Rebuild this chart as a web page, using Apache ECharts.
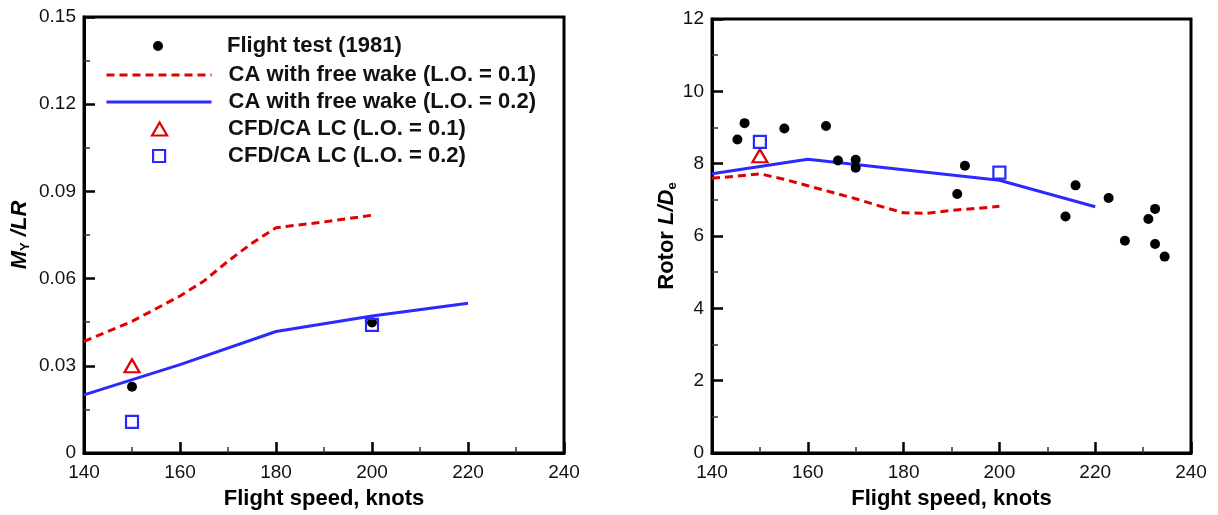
<!DOCTYPE html>
<html>
<head>
<meta charset="utf-8">
<script src="https://cdn.jsdelivr.net/npm/echarts@6/dist/echarts.min.js"></script>
<style>
html,body{margin:0;padding:0;background:#fff;}
#chart{width:1218px;height:515px;}
</style>
</head>
<body>
<div id="chart"></div>
<script>
// ---------- data ----------
const seriesNames = [
  'Flight test (1981)',
  'CA with free wake (L.O. = 0.1)',
  'CA with free wake (L.O. = 0.2)',
  'CFD/CA LC (L.O. = 0.1)',
  'CFD/CA LC (L.O. = 0.2)'
];
const xRange = [140, 240];
const xStep = 20;
const myRange = [0, 0.15];
const myStep = 0.03;
const ldRange = [0, 12];
const ldStep = 2;

// Left panel: hub moment M_Y/LR vs flight speed
const flightTestMy = [[150, 0.0228], [200, 0.0449]];
const caWake01My = [[140, 0.0384], [150, 0.0453], [160, 0.0540], [165, 0.0592], [170, 0.0660], [175, 0.0722], [180, 0.0775], [190, 0.0795], [200, 0.0818]];
const caWake02My = [[140, 0.0200], [160, 0.0304], [180, 0.0418], [200, 0.0471], [220, 0.0515]];
const cfdLc01My = [[150, 0.0300]];
const cfdLc02My = [[150, 0.0107], [200, 0.0441]];

// Right panel: rotor L/De vs flight speed
const flightTestLD = [[145.3, 8.67], [146.8, 9.12], [155.1, 8.97], [163.8, 9.04], [166.3, 8.09], [170.0, 8.11], [170.0, 7.89], [191.2, 7.16], [192.8, 7.94], [213.8, 6.54], [215.9, 7.40], [222.8, 7.05], [226.2, 5.87], [231.1, 6.47], [232.5, 6.75], [232.5, 5.78], [234.5, 5.43]];
const caWake01LD = [[140, 7.60], [145, 7.65], [150, 7.72], [155, 7.57], [160, 7.39], [165, 7.21], [170, 7.03], [175, 6.83], [180, 6.64], [185, 6.63], [190, 6.71], [195, 6.76], [200, 6.82]];
const caWake02LD = [[140, 7.72], [160, 8.12], [200, 7.54], [220, 6.81]];
const cfdLc01LD = [[150, 8.22]];
const cfdLc02LD = [[150, 8.60], [200, 7.75]];

// ---------- styling ----------
const FONT = 'Arial, "Liberation Sans", sans-serif';
const RED = '#e00000';
const BLUE = '#2a2aff';
const BLACK = '#000';

function xAxisDef(gridIndex) {
  return {
    type: 'value', gridIndex: gridIndex,
    min: xRange[0], max: xRange[1], interval: xStep,
    name: 'Flight speed, knots', nameLocation: 'middle', nameGap: 35,
    nameTextStyle: {fontFamily: FONT, fontSize: 22, fontWeight: 'bold', color: BLACK},
    axisLine: {show: true, onZero: false, lineStyle: {color: BLACK, width: 3}},
    axisTick: {show: true, inside: true, length: 11, lineStyle: {color: BLACK, width: 2.5}},
    minorTick: {show: true, splitNumber: 2, length: 6, lineStyle: {color: '#333', width: 1.5}},
    axisLabel: {fontFamily: FONT, fontSize: 19, color: '#111', margin: 10},
    splitLine: {show: false}
  };
}
function yAxisDef(gridIndex, range, step, name, gap, rich, fmt) {
  return {
    type: 'value', gridIndex: gridIndex,
    min: range[0], max: range[1], interval: step,
    name: name, nameLocation: 'middle', nameGap: gap,
    nameTextStyle: {fontFamily: FONT, fontSize: 22, fontWeight: 'bold', color: BLACK, rich: rich},
    axisLine: {show: true, onZero: false, lineStyle: {color: BLACK, width: 3}},
    axisTick: {show: true, inside: true, length: 11, lineStyle: {color: BLACK, width: 2.5}},
    minorTick: {show: true, splitNumber: 2, length: 6, lineStyle: {color: '#333', width: 1.5}},
    axisLabel: {fontFamily: FONT, fontSize: 19, color: '#111', margin: 8, formatter: fmt},
    splitLine: {show: false}
  };
}

const richMy = {
  i: {fontFamily: FONT, fontSize: 22, fontWeight: 'bold', fontStyle: 'italic', color: BLACK, lineHeight: 24},
  s: {fontFamily: FONT, fontSize: 13, fontWeight: 'bold', color: BLACK, verticalAlign: 'bottom', lineHeight: 24}
};
const richLD = {
  n: {fontFamily: FONT, fontSize: 22, fontWeight: 'bold', color: BLACK, lineHeight: 24},
  i: {fontFamily: FONT, fontSize: 22, fontWeight: 'bold', fontStyle: 'italic', color: BLACK, lineHeight: 24},
  s: {fontFamily: FONT, fontSize: 13, fontWeight: 'bold', color: BLACK, verticalAlign: 'bottom', lineHeight: 24}
};

function panelSeries(idx, ft, w1, w2, c1, c2) {
  return [
    {name: seriesNames[1], type: 'line', xAxisIndex: idx, yAxisIndex: idx, data: w1,
      symbol: 'none', lineStyle: {color: RED, width: 3, type: [8, 5]}, itemStyle: {color: RED}, z: 2, animation: false},
    {name: seriesNames[2], type: 'line', xAxisIndex: idx, yAxisIndex: idx, data: w2,
      symbol: 'none', lineStyle: {color: BLUE, width: 3}, itemStyle: {color: BLUE}, z: 2, animation: false},
    {name: seriesNames[0], type: 'scatter', xAxisIndex: idx, yAxisIndex: idx, data: ft,
      symbol: 'circle', symbolSize: 10, itemStyle: {color: BLACK, opacity: 1}, z: 3, animation: false},
    {name: seriesNames[3], type: 'scatter', xAxisIndex: idx, yAxisIndex: idx, data: c1,
      symbol: 'triangle', symbolSize: [15, 13], itemStyle: {color: 'rgba(0,0,0,0)', borderColor: RED, borderWidth: 2.2, opacity: 1}, z: 4, animation: false},
    {name: seriesNames[4], type: 'scatter', xAxisIndex: idx, yAxisIndex: idx, data: c2,
      symbol: 'rect', symbolSize: 12, itemStyle: {color: 'rgba(0,0,0,0)', borderColor: BLUE, borderWidth: 2.2, opacity: 1}, z: 4, animation: false}
  ];
}

// legend rows: vertical centre of each row, icon box, and where the text starts
const legendRows = [46, 75, 102, 129, 156];
const legendTextX = 227;
const legendIcons = [
  {icon: 'circle', left: 153, w: 10, h: 10, style: {color: BLACK}},
  {left: 105, w: 105, h: 10, line: {color: RED, width: 3, type: [8, 5]}},
  {left: 105, w: 105, h: 10, line: {color: BLUE, width: 3, type: 'solid'}},
  {icon: 'triangle', left: 151, w: 15, h: 13, style: {color: 'rgba(0,0,0,0)', borderColor: RED, borderWidth: 2.2}},
  {icon: 'rect', left: 152, w: 12, h: 12, style: {color: 'rgba(0,0,0,0)', borderColor: BLUE, borderWidth: 2.2}}
];
const legends = seriesNames.map(function (nm, k) {
  const cfg = legendIcons[k];
  const item = {name: nm};
  if (cfg.icon) item.icon = cfg.icon;
  if (cfg.style) item.itemStyle = cfg.style;
  if (cfg.line) { item.lineStyle = cfg.line; item.itemStyle = {opacity: 0}; }
  return {
    data: [item], left: cfg.left, top: legendRows[k] - 12, padding: 0,
    orient: 'vertical', itemWidth: cfg.w, itemHeight: cfg.h,
    selectedMode: false,
    textStyle: {fontFamily: FONT, fontSize: 22, fontWeight: 'bold', color: '#111', lineHeight: 24,
      padding: [0, 0, 0, legendTextX - cfg.left - cfg.w - 5]}
  };
});

const option = {
  backgroundColor: '#fff',
  animation: false,
  legend: legends,
  grid: [
    {left: 84, top: 17, width: 480, height: 440, show: true, borderColor: BLACK, borderWidth: 3, containLabel: false},
    {left: 712, top: 19, width: 479, height: 438, show: true, borderColor: BLACK, borderWidth: 3, containLabel: false}
  ],
  xAxis: [xAxisDef(0), xAxisDef(1)],
  yAxis: [
    yAxisDef(0, myRange, myStep, '{i|M}{s|Y}{i| /LR}', 52, richMy, function (v) { return v === 0 ? '0' : v.toFixed(2); }),
    yAxisDef(1, ldRange, ldStep, '{n|Rotor }{i|L/D}{s|e}', 32, richLD, function (v) { return String(v); })
  ],
  series: panelSeries(0, flightTestMy, caWake01My, caWake02My, cfdLc01My, cfdLc02My)
    .concat(panelSeries(1, flightTestLD, caWake01LD, caWake02LD, cfdLc01LD, cfdLc02LD))
};

const chart = echarts.init(document.getElementById('chart'), null, {renderer: 'canvas'});
chart.setOption(option);
</script>
</body>
</html>
